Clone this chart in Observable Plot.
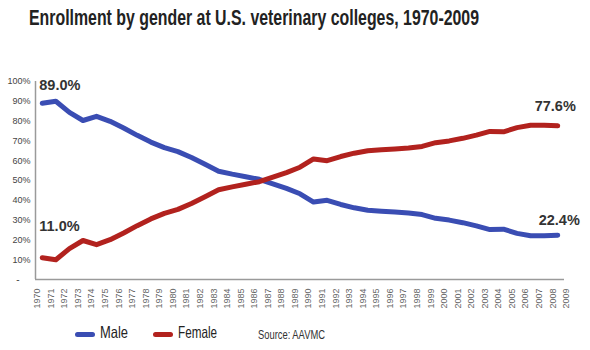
<!DOCTYPE html>
<html>
<head>
<meta charset="utf-8">
<script src="https://cdn.jsdelivr.net/npm/d3@7"></script>
<script src="https://cdn.jsdelivr.net/npm/@observablehq/plot@0.6"></script>
<style>
  html, body { margin: 0; padding: 0; background: #fff; }
  #wrap { position: relative; width: 590px; height: 350px; overflow: hidden; font-family: "Liberation Sans", Arial, sans-serif; }
  #title { position: absolute; left: 29px; top: 6px; font-family: "Liberation Sans", Arial, sans-serif; font-weight: bold; font-size: 21.5px; color: #222; white-space: nowrap; transform-origin: 0 0; }
  #chart { position: absolute; left: 0; top: 45px; }
  #legend { position: absolute; left: 0; top: 322px; width: 590px; height: 24px; font-family: "Liberation Sans", Arial, sans-serif; color: #222; }
  .sw { position: absolute; top: 10px; width: 20px; height: 5px; border-radius: 3px; }
  .lt { position: absolute; top: 1px; font-size: 16.5px; white-space: nowrap; transform-origin: 0 0; }
  .src { position: absolute; top: 5px; font-size: 13px; color: #333; white-space: nowrap; transform-origin: 0 0; }
</style>
</head>
<body>
<div id="wrap">
  <div id="title">Enrollment by gender at U.S. veterinary colleges, 1970-2009</div>
  <div id="chart"></div>
  <div id="legend"></div>
</div>
<script>
// ---- data ----
const years = [1970,1971,1972,1973,1974,1975,1976,1977,1978,1979,1980,1981,1982,1983,1984,1985,1986,1987,1988,1989,1990,1991,1992,1993,1994,1995,1996,1997,1998,1999,2000,2001,2002,2003,2004,2005,2006,2007,2008];
const male = [89.0,90.0,84.4,80.3,82.4,79.9,76.5,72.8,69.4,66.6,64.6,61.6,58.2,54.7,53.2,51.9,50.6,48.3,46.0,43.3,39.1,40.0,37.9,36.2,35.0,34.5,34.1,33.6,32.8,30.9,30.0,28.7,27.1,25.2,25.4,23.3,22.1,22.1,22.4];
const female = [11.0,10.0,15.6,19.7,17.6,20.1,23.5,27.2,30.6,33.4,35.4,38.4,41.8,45.3,46.8,48.1,49.4,51.7,54.0,56.7,60.9,60.0,62.1,63.8,65.0,65.5,65.9,66.4,67.2,69.1,70.0,71.3,72.9,74.8,74.6,76.7,77.9,77.9,77.6];
const xTickLabels = [1970,1971,1972,1973,1974,1975,1976,1977,1978,1979,1980,1981,1982,1983,1984,1985,1986,1987,1988,1989,1990,1991,1992,1993,1994,1995,1996,1997,1998,1999,2000,2001,2002,2003,2004,2005,2006,2007,2008,2009];
const yTicks = [10,20,30,40,50,60,70,80,90,100];
const yZeroTick = [0];
const seriesNames = ["Male", "Female"];
const labelYears = [1970, 1970, 2008, 2008];
const labelValues = [89.0, 11.0, 77.6, 22.4];
const source = "Source: AAVMC";

// ---- styling ----
const colors = {Male: "#3a4db3", Female: "#b2221e"};
const labelDx = [-3, -3, -23, -19];
const labelDy = [-13, -27, -15, -10];

const rows = [];
years.forEach((yr, i) => {
  rows.push({year: yr, value: male[i], series: "Male"});
  rows.push({year: yr, value: female[i], series: "Female"});
});
const labels = labelYears.map((yr, i) => ({year: yr, value: labelValues[i], text: labelValues[i].toFixed(1) + "%", i}));

const xDomain = [years[0] - 0.5, years[years.length - 1] + 0.5];

const chart = Plot.plot({
  width: 590,
  height: 275,
  marginLeft: 35,
  marginRight: 26,
  marginTop: 36,
  marginBottom: 41,
  style: {background: "transparent", fontFamily: "'Liberation Sans', Arial, sans-serif"},
  x: {type: "linear", domain: xDomain, axis: null},
  y: {domain: [0, 100], axis: null},
  marks: [
    Plot.axisY(yTicks, {
      tickSize: 0, tickPadding: 5, fontSize: 9, fill: "#444", label: null,
      tickFormat: d => d + "%"
    }),
    Plot.axisY(yZeroTick, {
      tickSize: 0, tickPadding: 16, fontSize: 10, fill: "#444", label: null,
      tickFormat: () => "-"
    }),
    Plot.axisX(xTickLabels, {
      tickSize: 0, tickPadding: 9, tickRotate: -90, fontSize: 9, fill: "#666", label: null,
      dx: -5, tickFormat: d => String(d)
    }),
    Plot.ruleY([0], {stroke: "#9a9a9a", strokeWidth: 1.5}),
    Plot.ruleX([xDomain[0]], {stroke: "#9a9a9a", strokeWidth: 1.5}),
    ...seriesNames.map(s => Plot.line(rows.filter(r => r.series === s), {
      x: "year", y: "value", stroke: colors[s], strokeWidth: 5,
      strokeLinecap: "round", strokeLinejoin: "round"
    })),
    ...labels.map(l => Plot.text([l], {
      x: "year", y: "value", text: "text", textAnchor: "start", lineAnchor: "bottom",
      dx: labelDx[l.i], dy: labelDy[l.i], fontSize: 14.5, fontWeight: "bold", fill: "#333"
    }))
  ]
});
document.getElementById("chart").appendChild(chart);

// ---- legend ----
function fitWidth(el, target) {
  const w = el.getBoundingClientRect().width;
  if (w > 0) el.style.transform = "scaleX(" + (target / w) + ")";
}
const legend = document.getElementById("legend");
const legendPos = {Male: 75, Female: 153};
const legendTextWidth = {Male: 28, Female: 39};
seriesNames.forEach(s => {
  const sw = document.createElement("div");
  sw.className = "sw";
  sw.style.left = legendPos[s] + "px";
  sw.style.background = colors[s];
  legend.appendChild(sw);
  const t = document.createElement("div");
  t.className = "lt";
  t.style.left = (legendPos[s] + 25) + "px";
  t.textContent = s;
  legend.appendChild(t);
  fitWidth(t, legendTextWidth[s]);
});
const src = document.createElement("div");
src.className = "src";
src.style.left = "258px";
src.textContent = source;
legend.appendChild(src);
fitWidth(src, 67);
fitWidth(document.getElementById("title"), 450);
</script>
</body>
</html>
